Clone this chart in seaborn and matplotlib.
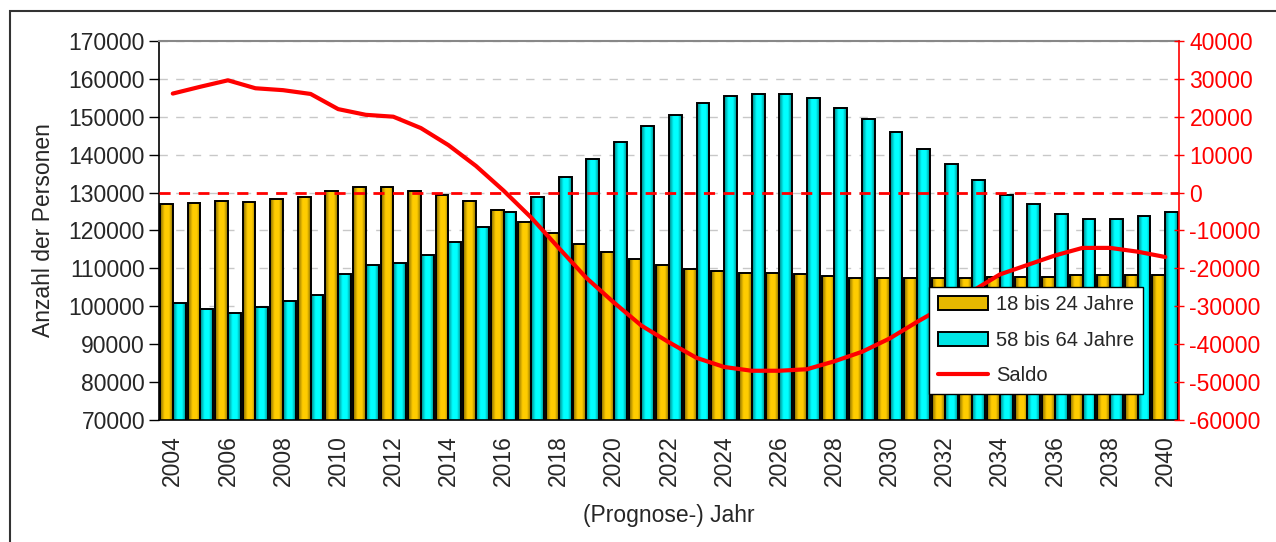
import matplotlib
matplotlib.use("Agg")
import matplotlib.pyplot as plt
import matplotlib.patches as mpatches
from matplotlib.colors import to_rgb
from matplotlib.lines import Line2D
from matplotlib.ticker import FixedLocator, MultipleLocator
import numpy as np
import pandas as pd
import seaborn as sns

years = list(range(2004, 2041))

jung = [126900, 127300, 127900, 127400, 128400, 128900, 130400, 131400, 131400,
        130400, 129400, 127900, 125400, 122300, 119400, 116400, 114400, 112400,
        110900, 109900, 109400, 108900, 108900, 108400, 107900, 107400, 107400,
        107400, 107400, 107400, 107800, 107800, 107800, 108300, 108300, 108300,
        108300]

alt = [100800, 99400, 98300, 99900, 101400, 102900, 108400, 110900, 111400,
       113400, 116900, 120900, 124900, 128900, 134000, 138900, 143400, 147500,
       150400, 153500, 155400, 155900, 155900, 155000, 152400, 149400, 145900,
       141500, 137400, 133400, 129400, 126900, 124400, 122900, 122900, 123900,
       124900]

saldo = [26100, 27900, 29600, 27500, 27000, 26000, 22000, 20500, 20000, 17000,
         12500, 7000, 500, -6600, -14600, -22500, -29000, -35100, -39500,
         -43600, -46000, -47000, -47000, -46600, -44500, -42000, -38500,
         -34100, -30000, -26000, -21600, -19100, -16600, -14600, -14600,
         -15600, -17000]

gruppen = ["18 bis 24 Jahre", "58 bis 64 Jahre"]
farben = {"18 bis 24 Jahre": "#FFCC00", "58 bis 64 Jahre": "#00FFFF"}

df = pd.DataFrame({
    "Jahr": [str(y) for y in years] * 2,
    "Anzahl": jung + alt,
    "Gruppe": [gruppen[0]] * len(years) + [gruppen[1]] * len(years),
})

sns.set_style("white")
plt.rcParams["font.family"] = ["Liberation Sans", "DejaVu Sans"]
plt.rcParams["axes.unicode_minus"] = False
fs = 16.5


def verlauf(farbe, n=40):
    # Excel-artiger Farbverlauf: dunkle Raender, helle Mitte
    t = np.linspace(0, 1, n)
    f = np.ones(n)
    f[t < 0.35] = 0.5 + 0.5 * t[t < 0.35] / 0.35
    rechts = t > 0.7
    f[rechts] = 1 - 0.45 * (t[rechts] - 0.7) / 0.3
    rgb = np.array(to_rgb(farbe))
    return (rgb[None, :] * f[:, None])[None, :, :]


fig = plt.figure(figsize=(12.76, 5.42), dpi=100)
ax = fig.add_axes([0.1246, 0.225, 0.7994, 0.6996])

sns.barplot(data=df, x="Jahr", y="Anzahl", hue="Gruppe", palette=farben,
            width=0.93, gap=0, edgecolor="black", linewidth=1.4,
            saturation=1, legend=False, ax=ax, zorder=2)

# Verlauf in die Balken legen
for bar in list(ax.patches):
    x0, w, h = bar.get_x(), bar.get_width(), bar.get_height()
    ax.imshow(verlauf(bar.get_facecolor()), extent=[x0, x0 + w, 0, h],
              aspect="auto", interpolation="bilinear", zorder=2.1)
    bar.set_facecolor("none")
    bar.set_zorder(2.2)

ax.set_xlim(-0.5, len(years) - 0.5)
ax.set_ylim(70000, 170000)
ax.yaxis.set_major_locator(MultipleLocator(10000))
ax.yaxis.grid(True, color="#c8c8c8", linestyle=(0, (6, 6)), linewidth=1, zorder=0)
ax.set_axisbelow(True)

# Jahreszahlen nur jedes zweite Jahr, Striche an den Kategoriegrenzen
ax.xaxis.set_major_locator(FixedLocator(list(range(0, len(years), 2))))
ax.set_xticklabels([str(y) for y in years[::2]], rotation=90)
ax.xaxis.set_minor_locator(FixedLocator(list(np.arange(-0.5, len(years), 1.0))))
ax.tick_params(axis="x", which="major", length=0, labelsize=fs, pad=11)
ax.tick_params(axis="x", which="minor", length=7, width=1, color="#444444", direction="out")
ax.tick_params(axis="y", length=7, width=1, color="black", labelsize=fs, left=True, pad=3)

ax.set_xlabel("(Prognose-) Jahr", fontsize=fs, labelpad=13)
ax.set_ylabel("Anzahl der Personen", fontsize=fs, labelpad=10)

for s in ["left", "bottom"]:
    ax.spines[s].set_color("black")
    ax.spines[s].set_linewidth(1.2)
ax.spines["top"].set_color("#888888")
ax.spines["top"].set_linewidth(1.5)
ax.spines["right"].set_visible(False)

# Saldo auf rechter Achse
ax2 = ax.twinx()
sns.lineplot(x=np.arange(len(years)), y=saldo, color="red", linewidth=3,
             ax=ax2, zorder=3)
ax2.axhline(0, color="red", linestyle=(0, (4, 3)), linewidth=2, zorder=3)
ax2.set_ylim(-60000, 40000)
ax2.yaxis.set_major_locator(MultipleLocator(10000))
ax2.tick_params(axis="y", colors="red", length=7, width=1, labelsize=fs,
                right=True, direction="inout", pad=4)
for lab in ax2.get_yticklabels():
    lab.set_color("red")
ax2.spines["right"].set_color("red")
ax2.spines["right"].set_linewidth(1.2)
for s in ["left", "top", "bottom"]:
    ax2.spines[s].set_visible(False)
ax2.set_xlim(-0.5, len(years) - 0.5)

handles = [
    mpatches.Patch(facecolor="#E6B800", edgecolor="black", linewidth=1.4),
    mpatches.Patch(facecolor="#00E6E6", edgecolor="black", linewidth=1.4),
    Line2D([0], [0], color="red", linewidth=3),
]
leg = ax2.legend(handles, gruppen + ["Saldo"], loc="upper left",
                 bbox_to_anchor=(0.755, 0.351), fontsize=14.5, frameon=True,
                 fancybox=False, edgecolor="black", framealpha=1,
                 handlelength=2.5, handleheight=0.7, labelspacing=0.82,
                 borderpad=0.42, handletextpad=0.4, borderaxespad=0)
leg.get_frame().set_linewidth(1)
leg.set_zorder(10)

# Rahmen um das Diagramm
fig.patches.append(mpatches.Rectangle((10 / 1276, -0.2), 1.2, 1 - 11 / 542 + 0.2,
                                      transform=fig.transFigure, fill=False,
                                      edgecolor="#333333", linewidth=1.5))

fig.savefig("out.png", dpi=100)
